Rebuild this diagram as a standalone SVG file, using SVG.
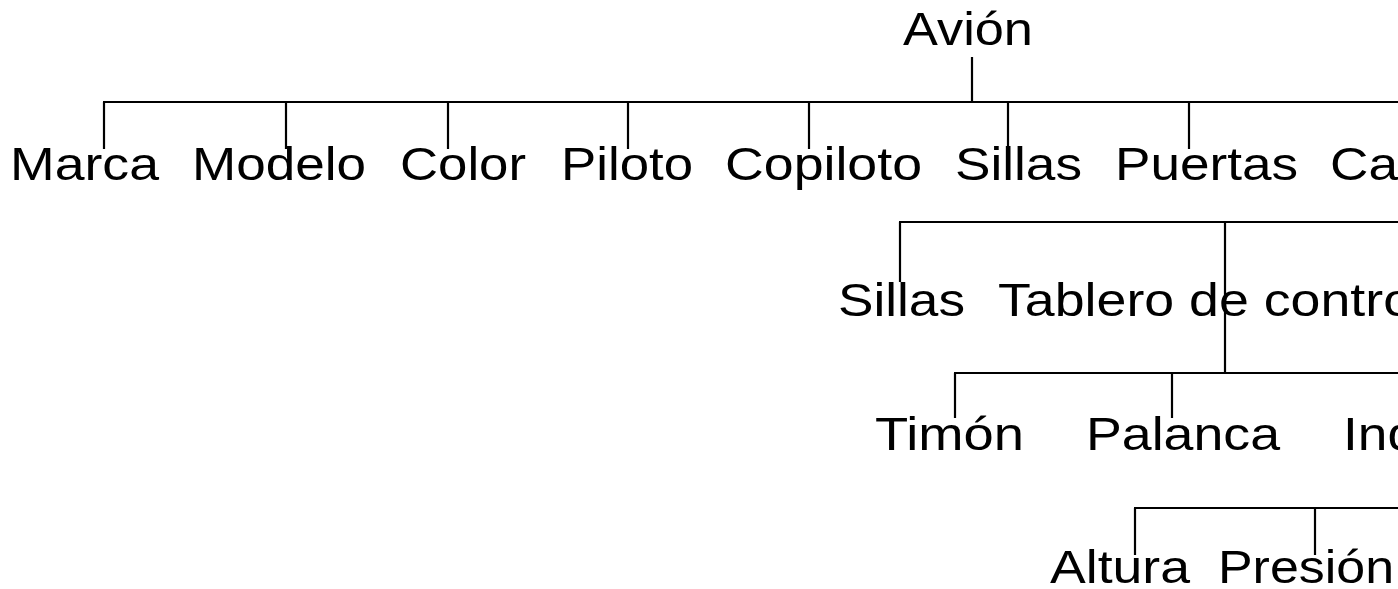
<svg xmlns="http://www.w3.org/2000/svg" width="1398" height="589" viewBox="0 0 1398 589">
<style>
text{font-family:"Liberation Sans",Arial,sans-serif;font-size:47px;fill:#000}
.c line{stroke:#000;stroke-width:2.2}
</style>
<rect width="1398" height="589" fill="#fff"/>
<g id="connectors" class="c">
<line x1="972" y1="57" x2="972" y2="102"/>
<line x1="103" y1="102" x2="1398" y2="102"/>
<line x1="104" y1="102" x2="104" y2="149"/>
<line x1="286" y1="102" x2="286" y2="149"/>
<line x1="448" y1="102" x2="448" y2="149"/>
<line x1="628" y1="102" x2="628" y2="149"/>
<line x1="809" y1="102" x2="809" y2="149"/>
<line x1="1008" y1="102" x2="1008" y2="149"/>
<line x1="1189" y1="102" x2="1189" y2="149"/>
<line x1="899" y1="222" x2="1398" y2="222"/>
<line x1="900" y1="222" x2="900" y2="282"/>
<line x1="1225" y1="222" x2="1225" y2="373"/>
<line x1="954" y1="373" x2="1398" y2="373"/>
<line x1="955" y1="373" x2="955" y2="418"/>
<line x1="1172" y1="373" x2="1172" y2="418"/>
<line x1="1134" y1="508" x2="1398" y2="508"/>
<line x1="1135" y1="508" x2="1135" y2="555"/>
<line x1="1315" y1="508" x2="1315" y2="555"/>
</g>
<g id="n-avion"><text x="903" y="45" textLength="130" lengthAdjust="spacingAndGlyphs">Avión</text></g>
<g id="n-marca"><text x="10" y="180" textLength="149" lengthAdjust="spacingAndGlyphs">Marca</text></g>
<g id="n-modelo"><text x="192" y="180" textLength="174" lengthAdjust="spacingAndGlyphs">Modelo</text></g>
<g id="n-color"><text x="400" y="180" textLength="126" lengthAdjust="spacingAndGlyphs">Color</text></g>
<g id="n-piloto"><text x="561" y="180" textLength="132" lengthAdjust="spacingAndGlyphs">Piloto</text></g>
<g id="n-copiloto"><text x="725" y="180" textLength="197" lengthAdjust="spacingAndGlyphs">Copiloto</text></g>
<g id="n-sillas"><text x="955" y="180" textLength="127" lengthAdjust="spacingAndGlyphs">Sillas</text></g>
<g id="n-puertas"><text x="1115" y="180" textLength="183" lengthAdjust="spacingAndGlyphs">Puertas</text></g>
<g id="n-cabina"><text x="1330" y="180" textLength="68" lengthAdjust="spacingAndGlyphs">Ca</text></g>
<g id="n-sillas2"><text x="838" y="316" textLength="127" lengthAdjust="spacingAndGlyphs">Sillas</text></g>
<g id="n-tablero"><text x="998" y="316" textLength="415" lengthAdjust="spacingAndGlyphs">Tablero de contro</text></g>
<g id="n-timon"><text x="875" y="450" textLength="149" lengthAdjust="spacingAndGlyphs">Timón</text></g>
<g id="n-palanca"><text x="1086" y="450" textLength="194" lengthAdjust="spacingAndGlyphs">Palanca</text></g>
<g id="n-ind"><text x="1343" y="450" textLength="74" lengthAdjust="spacingAndGlyphs">Ind</text></g>
<g id="n-altura"><text x="1050" y="583" textLength="140" lengthAdjust="spacingAndGlyphs">Altura</text></g>
<g id="n-presion"><text x="1218" y="583" textLength="176" lengthAdjust="spacingAndGlyphs">Presión</text></g>
</svg>
